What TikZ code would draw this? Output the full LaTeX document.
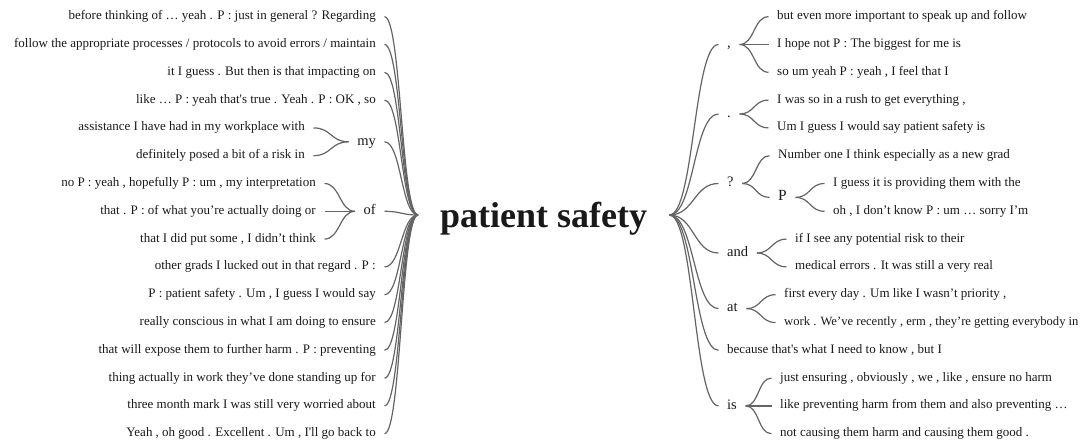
\documentclass[tikz,border=0pt]{standalone}
\usepackage{fontspec}
\setmainfont{Liberation Serif}
\definecolor{linegray}{RGB}{100,100,100}
\definecolor{ink}{RGB}{25,25,25}
\begin{document}
\begin{tikzpicture}[x=1pt,y=-1pt,
  leaf/.style={inner xsep=8.5pt, inner ysep=0pt, text height=9pt, text depth=3pt, text=ink, font=\fontsize{13}{15}\selectfont},
  word/.style={inner xsep=8.5pt, inner ysep=0pt, text height=10pt, text depth=3.5pt, text=ink, font=\fontsize{14.5}{16}\selectfont},
  rootword/.style={inner xsep=21.5pt, inner ysep=0pt, text height=30pt, text depth=6pt, text=ink, font=\fontsize{36}{40}\selectfont\bfseries},
  ln/.style={draw=linegray, line width=1.2pt}
]
\useasboundingbox (0,0) rectangle (1085,444);

% root
\node[rootword, anchor=west] (root) at (418,215) {\makebox[208pt][c]{patient safety}};

% ---------- left side ----------
\node[leaf, anchor=east] (L1) at (384.5,16.7) {before thinking of … yeah . P : just in general ? Regarding};
\node[leaf, anchor=east] (L2) at (384.5,44.5) {follow the appropriate processes / protocols to avoid errors / maintain};
\node[leaf, anchor=east] (L3) at (384.5,72.3) {it I guess . But then is that impacting on};
\node[leaf, anchor=east] (L4) at (384.5,100.1) {like … P : yeah that\textquotesingle s true . Yeah . P : OK , so};
\node[word, anchor=east] (wmy) at (384.5,141.8) {my};
\node[leaf, anchor=east] (L5) at (313.5,127.9) {assistance I have had in my workplace with};
\node[leaf, anchor=east] (L6) at (313.5,155.7) {definitely posed a bit of a risk in};
\node[word, anchor=east] (wof) at (384.5,211.3) {of};
\node[leaf, anchor=east] (L7) at (324.5,183.5) {no P : yeah , hopefully P : um , my interpretation};
\node[leaf, anchor=east] (L8) at (324.5,211.3) {that . P : of what you’re actually doing or};
\node[leaf, anchor=east] (L9) at (324.5,239.1) {that I did put some , I didn’t think};
\node[leaf, anchor=east] (L10) at (384.5,266.9) {other grads I lucked out in that regard . P :};
\node[leaf, anchor=east] (L11) at (384.5,294.7) {P : patient safety . Um , I guess I would say};
\node[leaf, anchor=east] (L12) at (384.5,322.5) {really conscious in what I am doing to ensure};
\node[leaf, anchor=east] (L13) at (384.5,350.3) {that will expose them to further harm . P : preventing};
\node[leaf, anchor=east] (L14) at (384.5,378.1) {thing actually in work they’ve done standing up for};
\node[leaf, anchor=east] (L15) at (384.5,405.9) {three month mark I was still very worried about};
\node[leaf, anchor=east] (L16) at (384.5,433.7) {Yeah , oh good . Excellent . Um , I\textquotesingle ll go back to};

\foreach \n in {L1,L2,L3,L4,wmy,wof,L10,L11,L12,L13,L14,L15,L16}
  \draw[ln] (\n.east) .. controls +(16.75,0) and +(-16.75,0) .. (root.west);
\foreach \n in {L5,L6}
  \draw[ln] (\n.east) .. controls +(18,0) and +(-18,0) .. (wmy.west);
\foreach \n in {L7,L8,L9}
  \draw[ln] (\n.east) .. controls +(15.5,0) and +(-15.5,0) .. (wof.west);

% ---------- right side ----------
\node[word, anchor=west] (wcomma) at (718.5,44.5) {,};
\node[leaf, anchor=west] (R1) at (768.5,16.7) {but even more important to speak up and follow};
\node[leaf, anchor=west] (R2) at (768.5,44.5) {I hope not P : The biggest for me is};
\node[leaf, anchor=west] (R3) at (768.5,72.3) {so um yeah P : yeah , I feel that I};
\node[word, anchor=west] (wdot) at (718.5,114) {.};
\node[leaf, anchor=west] (R4) at (768.5,100.1) {I was so in a rush to get everything ,};
\node[leaf, anchor=west] (R5) at (768.5,127.9) {Um I guess I would say patient safety is};
\node[word, anchor=west] (wq) at (718.5,183.5) {?};
\node[leaf, anchor=west] (R6) at (769.5,155.7) {Number one I think especially as a new grad};
\node[word, anchor=west, font=\fontsize{15.5}{17}\selectfont] (wP) at (769.5,197.4) {P};
\node[leaf, anchor=west] (R7) at (824.5,183.5) {I guess it is providing them with the};
\node[leaf, anchor=west] (R8) at (824.5,211.3) {oh , I don’t know P : um … sorry I’m};
\node[word, anchor=west] (wand) at (718.5,253) {and};
\node[leaf, anchor=west] (R9) at (786.5,239.1) {if I see any potential risk to their};
\node[leaf, anchor=west] (R10) at (786.5,266.9) {medical errors . It was still a very real};
\node[word, anchor=west] (wat) at (718.5,308.6) {at};
\node[leaf, anchor=west] (R11) at (775.5,294.7) {first every day . Um like I wasn’t priority ,};
\node[leaf, anchor=west, font=\fontsize{12.6}{15}\selectfont] (R12) at (775.5,322.5) {work . We’ve recently , erm , they’re getting everybody in};
\node[leaf, anchor=west] (R13) at (718.5,350.3) {because that\textquotesingle s what I need to know , but I};
\node[word, anchor=west] (wis) at (718.5,405.9) {is};
\node[leaf, anchor=west] (R14) at (771.5,378.1) {just ensuring , obviously , we , like , ensure no harm};
\node[leaf, anchor=west] (R15) at (771.5,405.9) {like preventing harm from them and also preventing …};
\node[leaf, anchor=west] (R16) at (771.5,433.7) {not causing them harm and causing them good .};

\foreach \n in {wcomma,wdot,wq,wand,wat,R13,wis}
  \draw[ln] (root.east) .. controls +(24.75,0) and +(-24.75,0) .. (\n.west);
\foreach \n in {R1,R2,R3}
  \draw[ln] (wcomma.east) .. controls +(15,0) and +(-15,0) .. (\n.west);
\foreach \n in {R4,R5}
  \draw[ln] (wdot.east) .. controls +(15,0) and +(-15,0) .. (\n.west);
\foreach \n in {R6,wP}
  \draw[ln] (wq.east) .. controls +(14,0) and +(-14,0) .. (\n.west);
\foreach \n in {R7,R8}
  \draw[ln] (wP.east) .. controls +(15,0) and +(-15,0) .. (\n.west);
\foreach \n in {R9,R10}
  \draw[ln] (wand.east) .. controls +(15,0) and +(-15,0) .. (\n.west);
\foreach \n in {R11,R12}
  \draw[ln] (wat.east) .. controls +(15,0) and +(-15,0) .. (\n.west);
\foreach \n in {R14,R15,R16}
  \draw[ln] (wis.east) .. controls +(14,0) and +(-14,0) .. (\n.west);
\end{tikzpicture}
\end{document}
